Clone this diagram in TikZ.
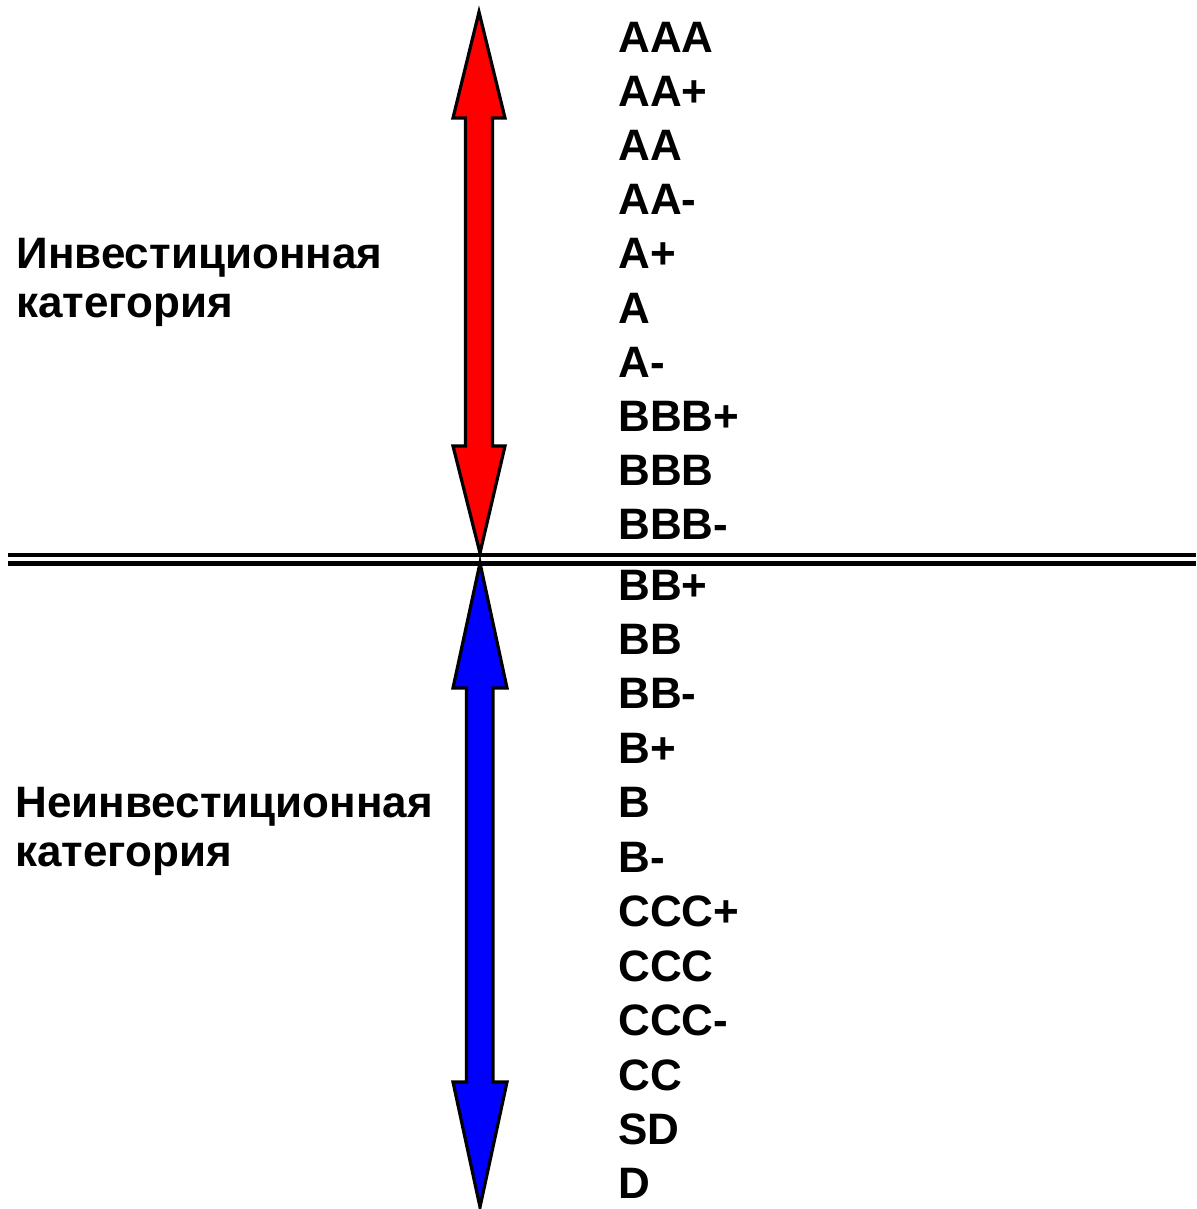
\documentclass[tikz,border=0pt]{standalone}
\usepackage{fontspec}
\setmainfont{Liberation Sans}
\begin{document}
\begin{tikzpicture}[x=0.5pt,y=-0.5pt,
  grade/.style={anchor=base west,inner sep=0pt,font=\fontsize{22pt}{24pt}\selectfont\bfseries},
  category/.style={anchor=base west,inner sep=0pt,align=left,
    font=\fontsize{22pt}{24.5pt}\selectfont\bfseries},
  fatarrow/.style={draw=black,line width=1.6pt,line join=miter,miter limit=20},
  divider/.style={line width=2.2pt}]
\useasboundingbox (0,0) rectangle (1196,1209);

% investment-grade span (red)
\filldraw[fatarrow,fill=red]
  (479,12) -- (505,118) -- (492.5,118) -- (492.5,446) -- (505,446)
  -- (480,553) -- (453,446) -- (465.5,446) -- (465.5,118) -- (453,118) -- cycle;

% speculative-grade span (blue)
\filldraw[fatarrow,fill=blue]
  (480,563) -- (507,688) -- (493,688) -- (493,1082) -- (507,1082)
  -- (480,1207) -- (453,1082) -- (466.5,1082) -- (466.5,688) -- (453,688) -- cycle;

% double boundary line
\coordinate (divL) at (8,555);
\coordinate (divR) at (1196,555);
\coordinate (divL2) at (8,563.5);
\coordinate (divR2) at (1196,563.5);
\draw[divider] (divL) -- (divR);
\draw[divider] (divL2) -- (divR2);

% category labels (base anchor sits on the last line)
\node[category] (inv) at (16,317) {Инвестиционная\\категория};
\node[category] (spec) at (15,866) {Неинвестиционная\\категория};

% rating scale, upper block
\foreach \g [count=\i from 0] in {AAA,AA+,AA,AA-,A+,A,A-,BBB+,BBB,BBB-}
  \node[grade] (up\i) at (618,53+54*\i) {\g};

% rating scale, lower block
\foreach \g [count=\i from 0] in {BB+,BB,BB-,B+,B,B-,CCC+,CCC,CCC-,CC,SD,D}
  \node[grade] (lo\i) at (618,600+54.45*\i) {\g};
\end{tikzpicture}
\end{document}
